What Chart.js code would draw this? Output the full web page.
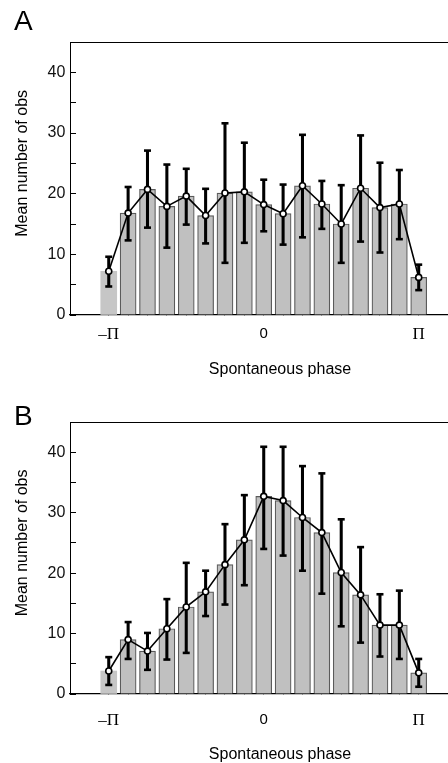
<!DOCTYPE html>
<html lang="en">
<head>
    <meta charset="UTF-8">
    <title>Mean number of obs by spontaneous phase</title>
    <script src="https://cdn.jsdelivr.net/npm/chart.js"></script>
    <style>
        html, body { margin: 0; padding: 0; background: #fff; }
        body { position: relative; width: 448px; height: 763px; overflow: hidden; }
        .painel { position: absolute; left: 0; width: 490px; height: 385px; }
        #painelA { top: 0; }
        #painelB { top: 385px; }
    </style>
    <script>
        // phase bins, in units of pi (-pi .. pi)
        var fases = [-1, -0.875, -0.75, -0.625, -0.5, -0.375, -0.25, -0.125, 0,
                     0.125, 0.25, 0.375, 0.5, 0.625, 0.75, 0.875, 1];

        // panel A
        var mediaA = [7.2, 16.8, 20.7, 17.9, 19.6, 16.4, 20.1, 20.3, 18.2, 16.7, 21.3, 18.3, 15.0, 20.9, 17.7, 18.3, 6.2];
        var superiorA = [9.6, 21.1, 27.1, 24.8, 24.1, 20.8, 31.6, 28.4, 22.3, 21.5, 29.7, 22.1, 21.4, 29.6, 25.1, 23.9, 8.3];
        var inferiorA = [4.7, 12.3, 14.4, 11.1, 14.9, 11.8, 8.6, 11.9, 13.8, 11.6, 12.8, 14.2, 8.6, 12.1, 10.3, 12.5, 4.1];

        // panel B
        var mediaB = [3.8, 9.0, 7.1, 10.8, 14.4, 16.9, 21.4, 25.5, 32.7, 32.0, 29.2, 26.7, 20.1, 16.4, 11.4, 11.4, 3.5];
        var superiorB = [6.1, 11.9, 10.1, 15.7, 21.7, 20.4, 28.1, 32.9, 40.9, 40.9, 37.7, 36.5, 28.9, 24.3, 16.5, 17.1, 5.8];
        var inferiorB = [1.5, 5.8, 4.0, 5.7, 6.8, 12.9, 14.8, 18.0, 24.0, 22.9, 20.4, 16.6, 11.2, 8.5, 6.2, 5.8, 1.2];

        // ticks
        var marcasY = [0, 5, 10, 15, 20, 25, 30, 35, 40];
        var rotulosY = [0, 10, 20, 30, 40];
        var valoresRotuloX = [-1, 0, 1];
        var textosRotuloX = ['\u2013\u03A0', '0', '\u03A0'];

        var SANS = '"Liberation Sans", Arial, Helvetica, sans-serif';
        var SERIF = '"Liberation Serif", "Times New Roman", serif';

        // panel letter + rotated y title
        var textoPainel = {
            id: 'textoPainel',
            afterDraw: function(chart, args, opts) {
                var ctx = chart.ctx;
                ctx.save();
                ctx.fillStyle = '#000';
                ctx.font = '28px ' + SANS;
                ctx.textAlign = 'left';
                ctx.textBaseline = 'alphabetic';
                ctx.fillText(opts.letra, 14, opts.baseLetra);

                ctx.font = '16px ' + SANS;
                ctx.translate(23, chart.scales.y.getPixelForValue(25));
                ctx.rotate(-Math.PI / 2);
                ctx.textAlign = 'center';
                ctx.textBaseline = 'middle';
                ctx.fillText('Mean number of obs', 0, 0);
                ctx.restore();
            }
        };

        function criarPainel(idCanvas, letra, media, superior, inferior, geo) {
            var ctx = document.getElementById(idCanvas).getContext('2d');

            var pontos = fases.map(function(f, i) { return { x: f, y: media[i] }; });
            var hastes = fases.map(function(f, i) { return { x: f, y: [inferior[i], superior[i]] }; });
            var tampas = [];
            fases.forEach(function(f, i) {
                tampas.push({ x: f, y: superior[i] });
                tampas.push({ x: f, y: inferior[i] });
            });

            var config = {
                data: {
                    datasets: [
                        {
                            type: 'line',
                            data: pontos,
                            borderColor: '#000',
                            borderWidth: 1.6,
                            tension: 0,
                            pointRadius: 3,
                            pointBorderWidth: 1.6,
                            pointBackgroundColor: '#fff',
                            pointBorderColor: '#000',
                            order: 1
                        },
                        {
                            type: 'line',
                            data: tampas,
                            showLine: false,
                            pointStyle: 'line',
                            pointRadius: 3.5,
                            pointBorderWidth: 2.6,
                            pointBorderColor: '#000',
                            order: 2
                        },
                        {
                            type: 'bar',
                            data: hastes,
                            barThickness: 2.4,
                            grouped: false,
                            backgroundColor: '#000',
                            borderWidth: 0,
                            order: 3
                        },
                        {
                            type: 'bar',
                            data: pontos,
                            barThickness: 16,
                            grouped: false,
                            backgroundColor: function(c) { return c.dataIndex === 0 ? '#c6c6c6' : '#c0c0c0'; },
                            borderColor: '#5a5a5a',
                            borderWidth: function(c) { return c.dataIndex === 0 ? 0 : 1.2; },
                            order: 4
                        }
                    ]
                },
                options: {
                    responsive: false,
                    animation: false,
                    layout: {
                        autoPadding: false,
                        padding: { top: geo.topo, left: 0, right: 0, bottom: 0 }
                    },
                    plugins: {
                        legend: { display: false },
                        tooltip: { enabled: false },
                        textoPainel: { letra: letra, baseLetra: geo.baseLetra }
                    },
                    scales: {
                        x: {
                            type: 'linear',
                            position: 'bottom',
                            offset: false,
                            min: -1.25,
                            max: 1.46,
                            afterBuildTicks: function(s) {
                                s.ticks = fases.map(function(f) { return { value: f }; });
                            },
                            afterFit: function(s) { s.height = geo.alturaX; },
                            grid: { offset: false, drawOnChartArea: false, drawTicks: true, tickLength: -3.5, color: '#000', lineWidth: 1 },
                            border: { display: true, color: '#000', width: 1.3 },
                            ticks: {
                                autoSkip: false,
                                maxRotation: 0,
                                padding: geo.padX,
                                color: '#000',
                                font: function(c) {
                                    if (c.tick && c.tick.value === 0) return { family: SANS, size: 15 };
                                    return { family: SERIF, size: 17 };
                                },
                                callback: function(v) {
                                    var k = valoresRotuloX.indexOf(v);
                                    return k >= 0 ? textosRotuloX[k] : '';
                                }
                            },
                            title: {
                                display: true,
                                text: 'Spontaneous phase',
                                color: '#000',
                                font: { family: SANS, size: 16 },
                                padding: { top: 0, bottom: 5.7 }
                            }
                        },
                        x2: {
                            type: 'linear',
                            position: 'top',
                            offset: false,
                            min: -1.25,
                            max: 1.46,
                            afterFit: function(s) { s.height = 0; },
                            ticks: { display: false },
                            grid: { display: false, drawTicks: false },
                            border: { display: true, color: '#000', width: 1 }
                        },
                        y: {
                            type: 'linear',
                            position: 'left',
                            min: 0,
                            max: 45,
                            afterBuildTicks: function(s) {
                                s.ticks = marcasY.map(function(v) { return { value: v }; });
                            },
                            afterFit: function(s) { s.width = 70; },
                            grid: { drawOnChartArea: false, drawTicks: true, tickLength: -6, color: '#000', lineWidth: 1 },
                            border: { display: true, color: '#000', width: 1 },
                            ticks: {
                                padding: 10.7,
                                color: '#111',
                                font: { family: SANS, size: 16 },
                                callback: function(v) { return rotulosY.indexOf(v) >= 0 ? String(v) : ''; }
                            }
                        }
                    }
                },
                plugins: [textoPainel]
            };

            return new Chart(ctx, config);
        }

        window.onload = function() {
            criarPainel('chartA', 'A', mediaA, superiorA, inferiorA,
                { topo: 42, alturaX: 70, padX: 13.2, baseLetra: 30 });
            criarPainel('chartB', 'B', mediaB, superiorB, inferiorB,
                { topo: 37, alturaX: 76, padX: 19.9, baseLetra: 39.5 });
        };
    </script>
</head>
<body>
    <div class="painel" id="painelA"><canvas id="chartA" width="490" height="385"></canvas></div>
    <div class="painel" id="painelB"><canvas id="chartB" width="490" height="385"></canvas></div>
</body>
</html>
